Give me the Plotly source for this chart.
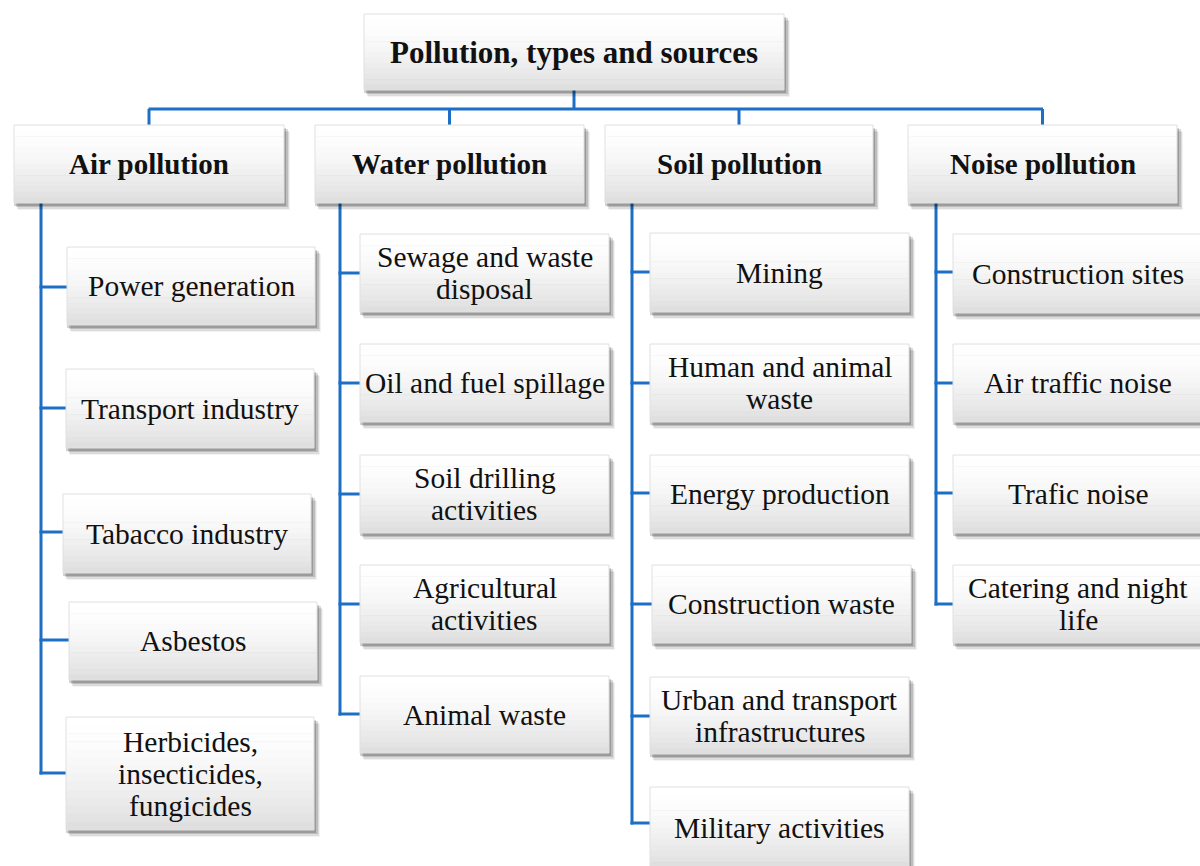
import plotly.graph_objects as go

# ---------------- data ----------------
root_label = "Pollution, types and sources"
categories = ["Air pollution", "Water pollution", "Soil pollution", "Noise pollution"]
air_sources = ["Power generation", "Transport industry", "Tabacco industry", "Asbestos",
               "Herbicides,\ninsecticides,\nfungicides"]
water_sources = ["Sewage and waste\ndisposal", "Oil and fuel spillage", "Soil drilling\nactivities",
                 "Agricultural\nactivities", "Animal waste"]
soil_sources = ["Mining", "Human and animal\nwaste", "Energy production", "Construction waste",
                "Urban and transport\ninfrastructures", "Military activities"]
noise_sources = ["Construction sites", "Air traffic noise", "Trafic noise", "Catering and night\nlife"]
sources = [air_sources, water_sources, soil_sources, noise_sources]

# ---------------- layout (pixel geometry) ----------------
W, H = 1200, 866
ROOT_BOX = (364, 14, 784, 90)
CAT_BOX_X = [(14, 284), (315, 584), (605, 873), (908, 1177)]
CAT_Y = (125, 203)
BUS_Y = 109
SPINE_X = [41, 340, 632, 936]
CHILD_X = [(67, 315), (360, 609), (650, 909), (953, 1203)]
CHILD_Y = [
    [(247, 325), (369, 448), (494, 573), (602, 680), (717, 830)],
    [(234, 312), (344, 422), (455, 533), (565, 643), (676, 753)],
    [(233, 312), (344, 422), (455, 533), (565, 643), (677, 754), (787, 868)],
    [(234, 313), (344, 422), (455, 533), (565, 643)],
]
CHILD_XOFF = [[0, -1, -4, 2, -1], [0, 0, 0, 0, 0], [0, 0, 0, 2, 0, 0], [0, 0, 0, 0]]
CONN_Y = [
    [287, 408, 532, 640, 773],
    [273, 383, 494, 604, 714],
    [272, 383, 493, 604, 716, 823],
    [272, 383, 493, 604],
]

LINE_COLOR = "#1d6fc6"
FONT = "Liberation Serif"
ROOT_SIZE, CAT_SIZE, ITEM_SIZE = 31, 29, 29.5
LINE_GAP = 32

shapes = []
annotations = []


def add_box(x0, y0, x1, y1):
    # soft drop shadow
    for dx, dy, a in [(6, 7, 0.05), (5, 6, 0.09), (4, 4, 0.14), (2, 3, 0.18)]:
        shapes.append(dict(type="rect", x0=x0 + dx - 2, x1=x1 + dx, y0=y0 + dy, y1=y1 + dy,
                           line=dict(width=0), fillcolor=f"rgba(0,0,0,{a})", layer="above"))
    # vertical gradient white -> light grey
    n = 14
    for i in range(n):
        t = (i + 0.5) / n
        g = int(round(255 - 34 * (t ** 1.7)))
        ya = y0 + (y1 - y0) * i / n
        yb = y0 + (y1 - y0) * (i + 1) / n + 0.6
        shapes.append(dict(type="rect", x0=x0, x1=x1, y0=ya, y1=min(yb, y1),
                           line=dict(width=0), fillcolor=f"rgb({g},{g},{g})", layer="above"))
    shapes.append(dict(type="rect", x0=x0, x1=x1, y0=y0, y1=y1,
                       line=dict(width=1, color="#e0e0e0"), fillcolor="rgba(0,0,0,0)", layer="above"))


def add_line(x0, y0, x1, y1):
    shapes.append(dict(type="line", x0=x0, y0=y0, x1=x1, y1=y1,
                       line=dict(color=LINE_COLOR, width=3), layer="below"))


def add_text(x, y, text, size, bold=False):
    lines = text.split("\n")
    n = len(lines)
    for i, ln in enumerate(lines):
        yy = y + (i - (n - 1) / 2) * LINE_GAP
        annotations.append(dict(x=x, y=yy, xref="x", yref="y", text=f"<b>{ln}</b>" if bold else ln,
                                showarrow=False, align="center", xanchor="center", yanchor="middle",
                                font=dict(family=FONT, size=size, color="#111111")))


# connectors from root
rx = (ROOT_BOX[0] + ROOT_BOX[2]) / 2
add_line(rx, ROOT_BOX[3], rx, BUS_Y)
cat_centers = [(a + b) / 2 for a, b in CAT_BOX_X]
add_line(cat_centers[0] - 0.5, BUS_Y, cat_centers[-1] + 0.5, BUS_Y)
for cx in cat_centers:
    add_line(cx, BUS_Y, cx, CAT_Y[0])

# root box
add_box(*ROOT_BOX)
add_text(rx, (ROOT_BOX[1] + ROOT_BOX[3]) / 2, root_label, ROOT_SIZE, bold=True)

for ci, cat in enumerate(categories):
    x0, x1 = CAT_BOX_X[ci]
    add_box(x0, CAT_Y[0], x1, CAT_Y[1])
    add_text((x0 + x1) / 2, (CAT_Y[0] + CAT_Y[1]) / 2, cat, CAT_SIZE, bold=True)
    sx = SPINE_X[ci]
    add_line(sx, CAT_Y[1], sx, CONN_Y[ci][-1] + 1.5)
    for k, label in enumerate(sources[ci]):
        bx0, bx1 = CHILD_X[ci]
        off = CHILD_XOFF[ci][k]
        by0, by1 = CHILD_Y[ci][k]
        add_line(sx - 1.5, CONN_Y[ci][k], bx0 + off, CONN_Y[ci][k])
        add_box(bx0 + off, by0, bx1 + off, by1)
        add_text((bx0 + bx1) / 2 + off, (by0 + by1) / 2, label, ITEM_SIZE)

fig = go.Figure()
fig.update_layout(
    width=W, height=H,
    margin=dict(l=0, r=0, t=0, b=0),
    paper_bgcolor="white", plot_bgcolor="white",
    xaxis=dict(range=[0, W], visible=False, fixedrange=True),
    yaxis=dict(range=[H, 0], visible=False, fixedrange=True),
    shapes=shapes, annotations=annotations, showlegend=False,
)
fig.write_html("out.html", config={"displayModeBar": False},
               post_script="document.body.style.margin='0';document.body.style.overflow='hidden';")
